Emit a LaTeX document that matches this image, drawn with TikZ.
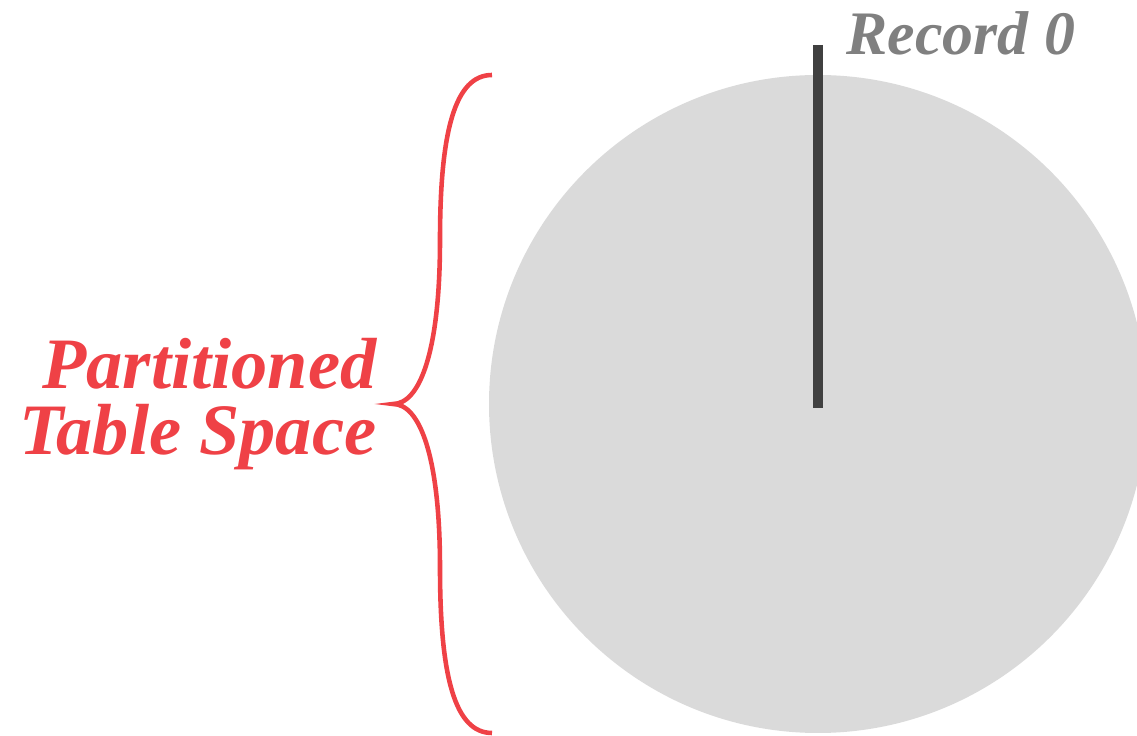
\documentclass[tikz,border=0pt]{standalone}
\usepackage{fontspec}
\setmainfont{Liberation Serif}
\usepackage{xcolor}
\definecolor{disk}{HTML}{DADADA}
\definecolor{needle}{HTML}{404040}
\definecolor{muted}{HTML}{808080}
\definecolor{accent}{HTML}{EF4146}

\begin{document}
\begin{tikzpicture}[every node/.style={font=\bfseries\itshape,inner sep=0pt}]
        \useasboundingbox (0,0) rectangle (11.37,7.36);
        \clip (0,0) rectangle (11.37,7.36);
        \fill[disk] (8.18,3.32) circle (3.29);
        \draw[needle,line width=2.85pt] (8.18,6.91) -- (8.18,3.28);
        \node[anchor=base west,text=muted,font=\bfseries\itshape\fontsize{17.6}{20}\selectfont] (record) at (8.46,6.81) {Record 0};
        \draw[accent,line width=1.3pt] (4.92,6.61) .. controls (4.55,6.61) and (4.40,6.05) .. (4.40,4.96)
          .. controls (4.40,3.85) and (4.20,3.32) .. (3.93,3.32)
          .. controls (4.20,3.32) and (4.40,2.79) .. (4.40,1.68)
          .. controls (4.40,0.59) and (4.55,0.03) .. (4.92,0.03);
        \node[anchor=east,align=right,text=accent,font=\bfseries\itshape\fontsize{20.6}{19}\selectfont] (space) at (3.77,3.32) {Partitioned\\Table Space};
      \end{tikzpicture}
\end{document}
